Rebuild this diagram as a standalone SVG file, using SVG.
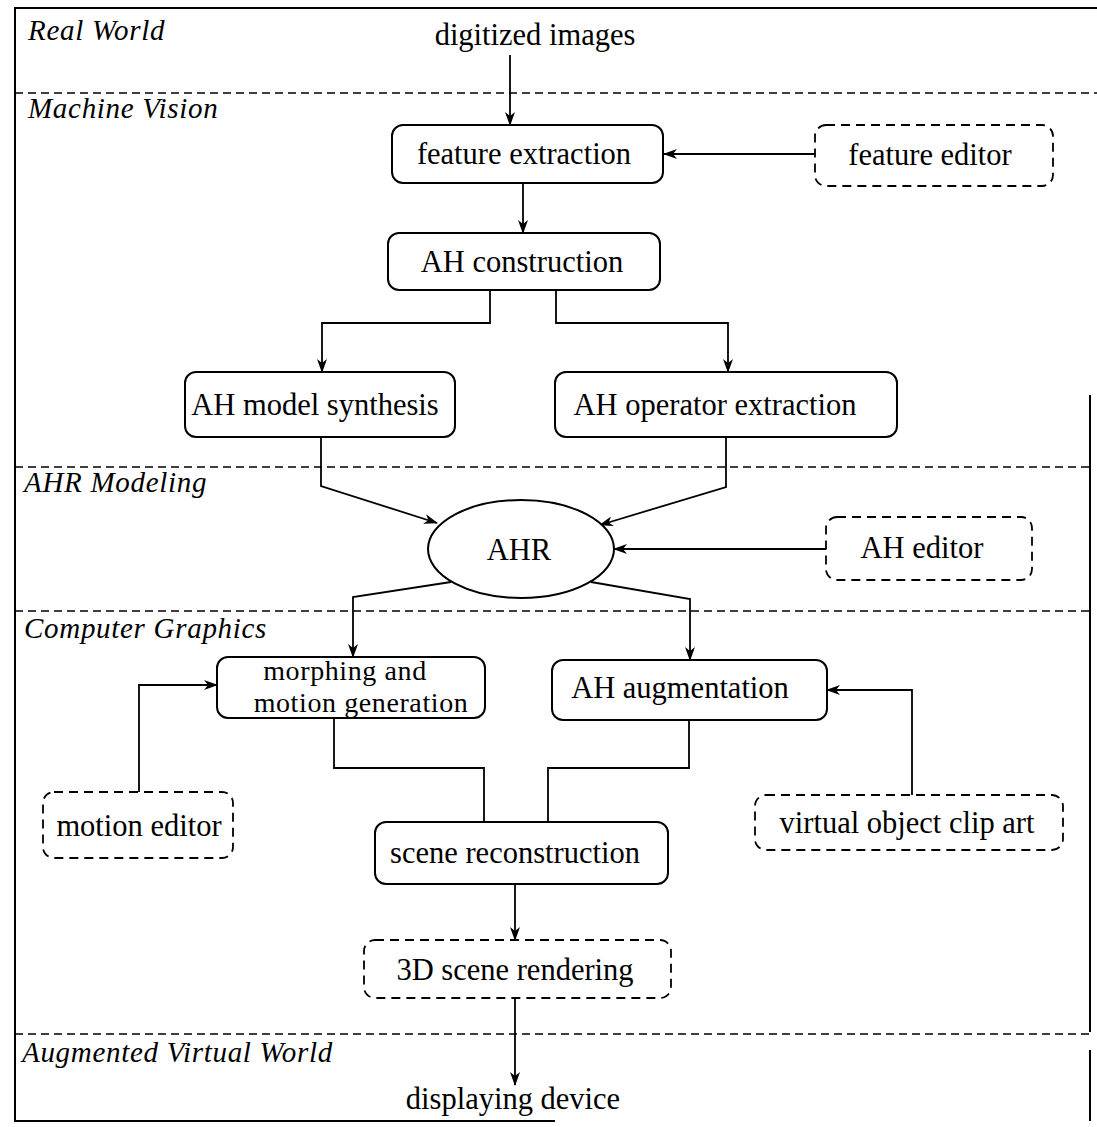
<svg xmlns="http://www.w3.org/2000/svg" width="1097" height="1127" viewBox="0 0 1097 1127">
  <style>
    .frame { fill: none; stroke: #000; stroke-width: 2; }
    .sep { fill: none; stroke: #000; stroke-width: 1.6; stroke-dasharray: 8 5; }
    .box { fill: #fff; stroke: #000; stroke-width: 2; }
    .dbox { fill: #fff; stroke: #000; stroke-width: 1.8; stroke-dasharray: 9 6; }
    .wire { fill: none; stroke: #000; stroke-width: 1.8; }
    .arrow { fill: none; stroke: #000; stroke-width: 1.8; marker-end: url(#head); }
    .lbl { font-family: "Liberation Serif", "Times New Roman", serif; font-size: 30.5px; fill: #000; text-anchor: middle; }
    .lbl2 { font-family: "Liberation Serif", "Times New Roman", serif; font-size: 28px; letter-spacing: 0.6px; fill: #000; text-anchor: middle; }
    .sec { font-family: "Liberation Serif", "Times New Roman", serif; font-size: 29px; font-style: italic; letter-spacing: 0.7px; fill: #000; }
  </style>
  <defs>
    <marker id="head" markerWidth="14" markerHeight="10" refX="13" refY="5" orient="auto" markerUnits="userSpaceOnUse">
      <path d="M0,0 L14,5 L0,10 L4,5 Z" fill="#000"/>
    </marker>
  </defs>

  <rect width="1097" height="1127" fill="#fff"/>

  <!-- outer frame -->
  <g id="frame">
    <path class="frame" d="M1097,8 L15,8 L15,1121 L555,1121"/>
    <path class="frame" d="M1090,1032 L1090,395"/>
    <path class="frame" d="M1090,1050 L1090,1121"/>
  </g>

  <!-- layer separators -->
  <g id="layers">
    <line class="sep" x1="15" y1="93" x2="1097" y2="93"/>
    <line class="sep" x1="15" y1="467" x2="1090" y2="467"/>
    <line class="sep" x1="15" y1="611" x2="1090" y2="611"/>
    <line class="sep" x1="15" y1="1034" x2="1090" y2="1034"/>
    <text class="sec" x="28" y="40">Real World</text>
    <text class="sec" x="28" y="118">Machine Vision</text>
    <text class="sec" x="24" y="492">AHR Modeling</text>
    <text class="sec" x="24" y="638">Computer Graphics</text>
    <text class="sec" x="22" y="1062">Augmented Virtual World</text>
  </g>

  <!-- connectors -->
  <g id="connectors">
    <line class="arrow" x1="510" y1="55" x2="510" y2="125"/>
    <line class="arrow" x1="815" y1="154" x2="664" y2="154"/>
    <line class="arrow" x1="523" y1="183" x2="523" y2="233"/>
    <polyline class="arrow" points="490,290 490,323 322,323 322,372"/>
    <polyline class="arrow" points="556,290 556,323 728,323 728,372"/>
    <polyline class="arrow" points="321,437 321,486 437,523"/>
    <polyline class="arrow" points="726,437 726,487 600,525"/>
    <line class="arrow" x1="826" y1="549" x2="614" y2="549"/>
    <polyline class="arrow" points="451,582 353,597 353,657"/>
    <polyline class="arrow" points="591,582 690,599 690,660"/>
    <polyline class="arrow" points="139,792 139,685 217,685"/>
    <polyline class="arrow" points="912,795 912,690 827,690"/>
    <polyline class="wire" points="334,718 334,768 484,768 484,822"/>
    <polyline class="wire" points="689,720 689,768 548,768 548,822"/>
    <line class="arrow" x1="515" y1="884" x2="515" y2="940"/>
    <line class="arrow" x1="515" y1="998" x2="515" y2="1085"/>
  </g>

  <!-- nodes -->
  <g id="digitized-images">
    <text class="lbl" x="535" y="45">digitized images</text>
  </g>
  <g id="feature-extraction">
    <rect class="box" x="392" y="125" width="271" height="58" rx="11"/>
    <text class="lbl" x="524" y="164">feature extraction</text>
  </g>
  <g id="feature-editor">
    <rect class="dbox" x="815" y="125" width="238" height="61" rx="11"/>
    <text class="lbl" x="930" y="165">feature editor</text>
  </g>
  <g id="ah-construction">
    <rect class="box" x="388" y="233" width="272" height="57" rx="11"/>
    <text class="lbl" x="522" y="272">AH construction</text>
  </g>
  <g id="ah-model-synthesis">
    <rect class="box" x="185" y="372" width="270" height="65" rx="11"/>
    <text class="lbl" x="315" y="415">AH model synthesis</text>
  </g>
  <g id="ah-operator-extraction">
    <rect class="box" x="555" y="372" width="342" height="65" rx="11"/>
    <text class="lbl" x="715" y="415">AH operator extraction</text>
  </g>
  <g id="ahr">
    <ellipse class="box" cx="521" cy="549" rx="93" ry="49"/>
    <text class="lbl" x="519" y="560">AHR</text>
  </g>
  <g id="ah-editor">
    <rect class="dbox" x="826" y="517" width="206" height="63" rx="11"/>
    <text class="lbl" x="922" y="558">AH editor</text>
  </g>
  <g id="morphing">
    <rect class="box" x="217" y="657" width="268" height="61" rx="11"/>
    <text class="lbl2" x="345" y="680">morphing and</text>
    <text class="lbl2" x="361" y="712">motion generation</text>
  </g>
  <g id="ah-augmentation">
    <rect class="box" x="552" y="660" width="275" height="60" rx="11"/>
    <text class="lbl" x="680" y="698">AH augmentation</text>
  </g>
  <g id="motion-editor">
    <rect class="dbox" x="43" y="792" width="190" height="66" rx="11"/>
    <text class="lbl" x="139" y="836">motion editor</text>
  </g>
  <g id="virtual-object-clip-art">
    <rect class="dbox" x="755" y="795" width="308" height="55" rx="11"/>
    <text class="lbl" x="907" y="833">virtual object clip art</text>
  </g>
  <g id="scene-reconstruction">
    <rect class="box" x="375" y="822" width="293" height="62" rx="11"/>
    <text class="lbl" x="515" y="863">scene reconstruction</text>
  </g>
  <g id="scene-rendering">
    <rect class="dbox" x="364" y="940" width="307" height="58" rx="11"/>
    <text class="lbl" x="515" y="980">3D scene rendering</text>
  </g>
  <g id="displaying-device">
    <text class="lbl" x="513" y="1109">displaying device</text>
  </g>
</svg>
